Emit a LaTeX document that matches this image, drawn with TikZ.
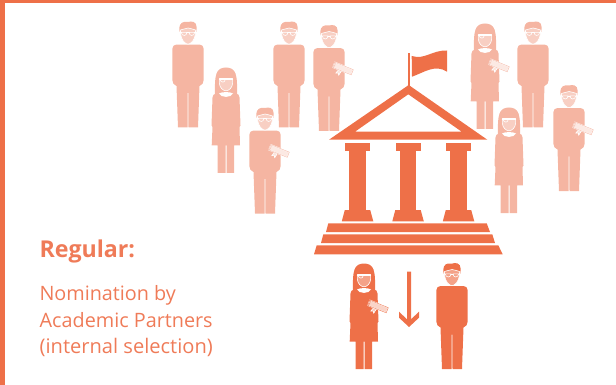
\documentclass[tikz,border=0pt]{standalone}
\usepackage{fontspec}
\setmainfont{Open Sans}
\definecolor{strong}{HTML}{EE7048}
\definecolor{pale}{HTML}{F5B5A2}
\definecolor{txtc}{HTML}{EF7B58}
\tikzset{
  part/.style={fill=strong,draw=none},
  wl/.style={draw=white,line width=0.6pt,line cap=round,line join=round},
  gl/.style={draw=white,line width=0.6pt,line cap=round,line join=round},
  label/.style={anchor=base west,inner sep=0pt,text=txtc},
  pics/diplomafig/.style={code={
    \begin{scope}[rotate=-22]
      \draw[wl,fill=figcol!35!white] (-3.5,2.5)--(-5,7)--(-2.5,6)--(-1.5,8)--(-0.5,2.5)--cycle;
      \draw[draw=white,line width=1pt,fill=figcol!30!white] (-10,-2.8) rectangle (10,2.8);
      \draw[draw=figcol,line width=0.35pt] (-10,-2.8) rectangle (10,2.8);
      \draw[draw=figcol,line width=0.35pt] (-10,0) ellipse (1.2 and 2.8);
    \end{scope}
  }},
  pics/manfig/.style={code={
    \fill[figcol] (-12,23.7) .. controls (-14,24) and (-15.7,25) .. (-15.7,28)
      -- (-15.7,59) .. controls (-15.7,62) and (-14,64) .. (-11.5,65) -- (-10,106.5) -- (-0.5,106.5) -- (-0.3,72)
      -- (0.3,72) -- (0.5,106.5) -- (10,106.5) -- (11.5,65) .. controls (14,64) and (15.7,62) .. (15.7,59)
      -- (15.7,28) .. controls (15.7,25) and (14,24) .. (12,23.7) -- cycle;
    \fill[figcol] (-8.4,11) .. controls (-9.6,5) and (-7.5,1.5) .. (-4,1) .. controls (-2,0.8) and (-1,1.6) .. (0.5,1)
      .. controls (3,-0.2) and (8.8,0.5) .. (8.6,6) -- (8.4,11) -- cycle;
    \draw[wl,fill=figcol!65!white] (-7.6,9) .. controls (-7.8,15) and (-6,20) .. (-2,22.6) .. controls (-0.8,23.2) and (0.8,23.2) .. (2,22.6)
       .. controls (6,20) and (7.8,15) .. (7.6,9) .. controls (5,8.5) and (2,7) .. (0,7) .. controls (-3,7) and (-5,9) .. (-7.6,9) -- cycle;
    \draw[gl] (-6.8,11.4) -- (-1,11.4) .. controls (-1.2,15.5) and (-6.2,15.5) .. (-6.8,11.4) -- cycle;
    \draw[gl] (6.8,11.4) -- (1,11.4) .. controls (1.2,15.5) and (6.2,15.5) .. (6.8,11.4) -- cycle;
    \draw[gl] (-1,11.4) -- (1,11.4);
  }},
  pics/womanfig/.style={code={
    \fill[figcol] (-11,27) .. controls (-11.3,18) and (-11,10) .. (-9.5,6) .. controls (-8,1.5) and (-4,0) .. (0,0)
      .. controls (4,0) and (8,1.5) .. (9.5,6) .. controls (11,10) and (11.3,18) .. (11,27) -- cycle;
    \fill[figcol] (-10,26) .. controls (-12,26.5) and (-13.5,27.5) .. (-13.5,30) -- (-14.5,58) -- (-13.5,59.5) -- (-14.3,78)
      -- (-8.5,78) -- (-8.5,105.5) -- (-0.5,105.5) -- (-0.5,78) -- (0.5,78) -- (0.5,105.5) -- (8,105.5) -- (8,78)
      -- (14,78) -- (13.5,59.5) -- (14.5,58) -- (13.5,30) .. controls (13.5,27.5) and (12,26.5) .. (10,26) -- cycle;
    \draw[wl,fill=figcol!65!white] (-6.6,11) -- (-6.6,16) .. controls (-6.3,20) and (-3,23.3) .. (0,23.3)
      .. controls (3,23.3) and (6.3,20) .. (6.6,16) -- (6.6,11) -- cycle;
    \fill[white] (-7,26) .. controls (-5,30.5) and (5,30.5) .. (7,26) .. controls (5,25) and (3,24.6) .. (0,24.6)
      .. controls (-3,24.6) and (-5,25) .. (-7,26) -- cycle;
    \draw[gl] (-6.8,12) -- (6.8,12);
    \draw[gl] (-5.8,12) .. controls (-5.4,15.5) and (-1,15.5) .. (-0.8,12);
  }}
}
\begin{document}
\begin{tikzpicture}[x=1pt,y=-1pt]
\useasboundingbox (0,0) rectangle (616,385);
\fill[strong] (0,0) rectangle (616,3);
\fill[strong] (0,0) rectangle (5,385);
% pale crowd
\begin{scope}
\colorlet{figcol}{pale}
\pic at (188,21) {manfig};
\pic at (289,21) {manfig};
\pic at (533,21) {manfig};
\pic at (265,107) {manfig};
\pic at (265,107) [shift={(14,44)}] {diplomafig};
\pic at (329,24.5) {manfig};
\pic at (329,24.5) [shift={(14,44)}] {diplomafig};
\pic at (569,84.5) {manfig};
\pic at (569,84.5) [shift={(14,44)}] {diplomafig};
\pic at (226,67.5) {womanfig};
\pic at (509,107.5) {womanfig};
\pic at (485,23.5) {womanfig};
\pic at (485,23.5) [shift={(14,42)}] {diplomafig};
\end{scope}
% foreground people
\begin{scope}
\colorlet{figcol}{strong}
\pic at (452,262.5) {manfig};
\pic at (364,263.5) {womanfig};
\pic at (364,263.5) [shift={(14,43)}] {diplomafig};
\end{scope}
% building
\fill[part,even odd rule] (408.7,85) -- (487.3,139.7) -- (329,139.7) -- cycle
  (408.3,94.3) -- (461.7,131.7) -- (355,131.7) -- cycle;
\fill[part] (407.7,53.3) rectangle (410,86);
\fill[part] (411.7,56) .. controls (425,60) and (432,50) .. (447,50.5)
  -- (447,71.7) .. controls (435,64) and (425,72) .. (412,76.7) -- cycle;
\foreach \cx in {357.5,408,458.5}{
  \fill[part] (\cx-12.5,142.7) rectangle (\cx+12.5,151.3);
  \fill[part] (\cx-8.2,151) rectangle (\cx+8.2,210.5);
  \fill[part] (\cx-12.7,210) -- (\cx+12.7,210) -- (\cx+15.8,221.3) -- (\cx-15.7,221.3) -- cycle;
}
\fill[part] (328.3,223.3) -- (486.7,223.3) -- (490,232) -- (326,232) -- cycle;
\fill[part] (323.3,234.3) -- (492.3,234.3) -- (495,243) -- (321,243) -- cycle;
\fill[part] (316.7,245.3) -- (498.3,245.3) -- (502.7,254.3) -- (314,254.3) -- cycle;
% down arrow
\fill[part] (399,311.7) -- (407,319.3) -- (407,271.7) -- (411,271.7) -- (411,319.3) -- (419,311.7)
  -- (419,317.7) -- (409,327) -- (399,317.7) -- cycle;
% text
\node[label,font=\fontsize{23.2}{24}\selectfont\bfseries] (title) at (39.3,257) {Regular:};
\node[label,font=\fontsize{19.8}{20}\selectfont] (l1) at (39.3,300) {Nomination by};
\node[label,font=\fontsize{19.8}{20}\selectfont] (l2) at (39.5,327) {Academic Partners};
\node[label,font=\fontsize{20.1}{20}\selectfont] (l3) at (39.5,353) {(internal selection)};
\end{tikzpicture}
\end{document}
